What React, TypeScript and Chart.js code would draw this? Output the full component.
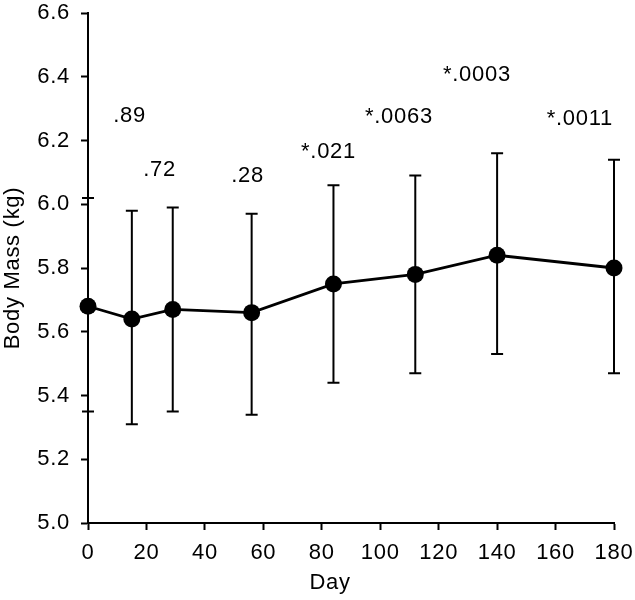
import React, { useEffect, useRef } from "react";
import { Chart, registerables } from "chart.js";

Chart.register(...registerables);

// ---- data ----
const days = [0, 15, 29, 56, 84, 112, 140, 180];
const bodyMass = [5.68, 5.64, 5.67, 5.66, 5.75, 5.78, 5.84, 5.8];
const upperBound = [6.02, 5.98, 5.99, 5.97, 6.06, 6.09, 6.16, 6.14];
const lowerBound = [5.35, 5.31, 5.35, 5.34, 5.44, 5.47, 5.53, 5.47];

const pLabels = [".89", ".72", ".28", "*.021", "*.0063", "*.0003", "*.0011"];
const pLabelDays = [14.2, 24.5, 54.6, 82.3, 106.4, 133.1, 168.3];
const pLabelMass = [6.282, 6.113, 6.094, 6.17, 6.28, 6.41, 6.273];

const xTitle = "Day";
const yTitle = "Body Mass (kg)";

const xMin = 0;
const xMax = 180;
const xStep = 20;
const yMin = 5.0;
const yMax = 6.6;
const yStep = 0.2;

const FONT = "'Liberation Sans', Arial, Helvetica, sans-serif";
const SPACING = "0.7px";

const errorBarPlugin = {
  id: "errorBars",
  beforeDraw(chart: any) {
    try {
      (chart.ctx as any).letterSpacing = SPACING;
    } catch (e) {}
  },
  beforeDatasetsDraw(chart: any) {
    const { ctx, scales } = chart;
    const xs = scales.x;
    const ys = scales.y;
    ctx.save();
    ctx.strokeStyle = "#000";
    ctx.lineWidth = 2;
    const cap = 6;
    for (let i = 0; i < days.length; i++) {
      const px = xs.getPixelForValue(days[i]);
      const top = ys.getPixelForValue(upperBound[i]);
      const bot = ys.getPixelForValue(lowerBound[i]);
      ctx.beginPath();
      ctx.moveTo(px, top);
      ctx.lineTo(px, bot);
      ctx.moveTo(px - cap, top);
      ctx.lineTo(px + cap, top);
      ctx.moveTo(px - cap, bot);
      ctx.lineTo(px + cap, bot);
      ctx.stroke();
    }
    ctx.restore();
  },
  afterDatasetsDraw(chart: any) {
    const { ctx, scales } = chart;
    const xs = scales.x;
    const ys = scales.y;
    const size = 22;
    ctx.save();
    ctx.fillStyle = "#000";
    ctx.font = `${size}px ${FONT}`;
    ctx.textAlign = "center";
    ctx.textBaseline = "alphabetic";
    for (let i = 0; i < pLabels.length; i++) {
      const px = xs.getPixelForValue(pLabelDays[i]);
      const py = ys.getPixelForValue(pLabelMass[i]);
      ctx.fillText(pLabels[i], px, py + size * 0.358);
    }
    // x-axis title (sits left of the axis centre in the reference)
    ctx.textBaseline = "middle";
    ctx.fillText(xTitle, (xs.left + xs.right) / 2 - 21, xs.bottom - 17);
    ctx.restore();
  },
};

export default function App() {
  const canvasRef = useRef<HTMLCanvasElement | null>(null);

  useEffect(() => {
    const canvas = canvasRef.current;
    if (!canvas) return;
    const chart = new Chart(canvas, {
      type: "line",
      data: {
        datasets: [
          {
            data: days.map((d, i) => ({ x: d, y: bodyMass[i] })),
            borderColor: "#000",
            backgroundColor: "#000",
            borderWidth: 2.8,
            pointRadius: 8.5,
            pointBackgroundColor: "#000",
            pointBorderColor: "#000",
            pointBorderWidth: 0,
            tension: 0,
            clip: false as any,
          },
        ],
      },
      options: {
        responsive: false,
        animation: false,
        devicePixelRatio: 1,
        events: [],
        layout: { padding: 0 },
        plugins: {
          legend: { display: false },
          tooltip: { enabled: false },
          title: { display: false },
        },
        scales: {
          x: {
            type: "linear",
            min: xMin,
            max: xMax,
            afterFit(s: any) {
              s.height = 77;
              s.paddingLeft = 0;
              s.paddingRight = 21;
            },
            ticks: {
              stepSize: xStep,
              color: "#000",
              padding: 10,
              font: { family: FONT, size: 22 },
              maxRotation: 0,
            },
            grid: {
              display: true,
              drawOnChartArea: false,
              drawTicks: true,
              tickLength: 7,
              tickWidth: 2,
              tickColor: "#000",
            },
            border: { display: true, color: "#000", width: 2 },
            title: { display: false, text: xTitle },
          },
          y: {
            type: "linear",
            min: yMin,
            max: yMax,
            afterFit(s: any) {
              s.width = 88;
              s.paddingTop = 13;
              s.paddingBottom = 0;
            },
            ticks: {
              stepSize: yStep,
              color: "#000",
              padding: 11,
              font: { family: FONT, size: 22 },
              callback: (v: any) => Number(v).toFixed(1),
            },
            grid: {
              display: true,
              drawOnChartArea: false,
              drawTicks: true,
              tickLength: 7,
              tickWidth: 2,
              tickColor: "#000",
            },
            border: { display: true, color: "#000", width: 2 },
            title: {
              display: true,
              text: yTitle,
              color: "#000",
              font: { family: FONT, size: 22 },
              padding: 0,
            },
          },
        },
      },
      plugins: [errorBarPlugin],
    });
    return () => chart.destroy();
  }, []);

  return (
    <div style={{ position: "absolute", left: 0, top: 0, width: 635, height: 600, background: "#fff" }}>
      <canvas ref={canvasRef} width={635} height={600} style={{ width: 635, height: 600, display: "block" }} />
    </div>
  );
}
